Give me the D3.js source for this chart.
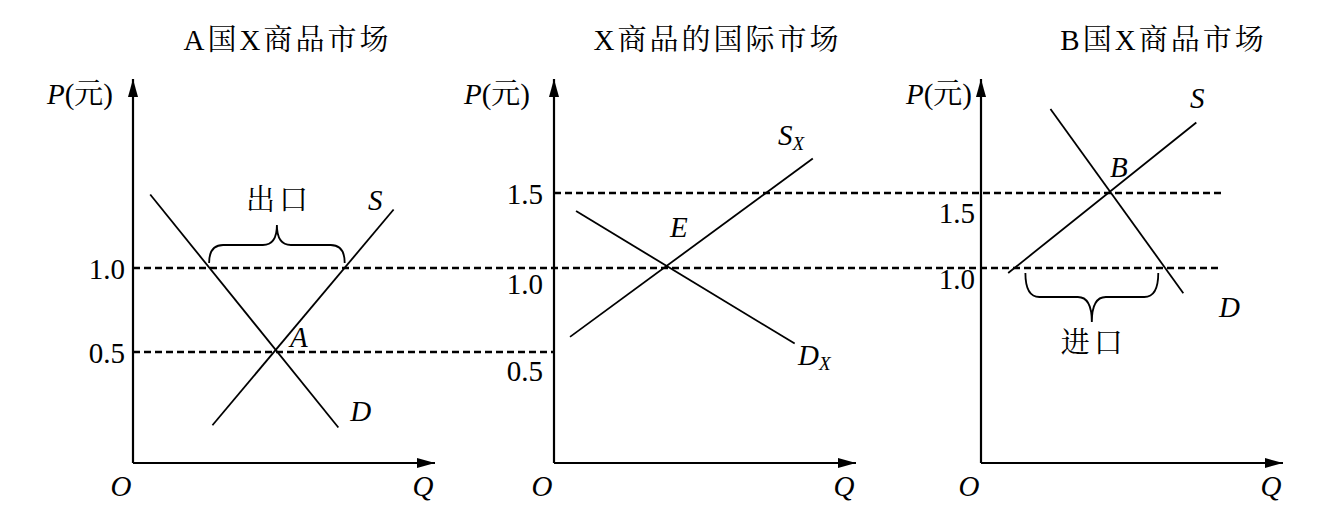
<!DOCTYPE html>
<html><head><meta charset="utf-8">
<script src="https://cdn.jsdelivr.net/npm/d3@7"></script>
<style>
body{margin:0;background:#fff}
svg{display:block}
text{font-family:"Liberation Serif","Times New Roman","Noto Serif CJK SC","Noto Sans CJK SC",serif;fill:#000}
</style>
</head><body>
<svg id="c" width="1333" height="532"></svg>
<script>
// ---------- data ----------
const titles = ["A国X商品市场", "X商品的国际市场", "B国X商品市场"];
const tickValues = [[1.0, 0.5], [1.5, 1.0, 0.5], [1.5, 1.0]];
const tickLabels = [["1.0", "0.5"], ["1.5", "1.0", "0.5"], ["1.5", "1.0"]];
const priceKnots = [0, 0.5, 1.0, 1.5];
const qMax = 10;
const pMax = 2.26;

// curves: [[Q, P], [Q, P]]
const supplyA = [[2.63, 0.17], [8.63, 1.39]];
const demandA = [[0.57, 1.49], [6.80, 0.16]];
const supplyWorld = [[0.53, 0.59], [8.57, 1.73]];
const demandWorld = [[0.73, 1.38], [7.97, 0.55]];
const supplyB = [[0.90, 0.97], [7.13, 1.97]];
const demandB = [[2.30, 2.06], [6.70, 0.85]];

// dashed price lines: price, from [panel, Q], to [panel, Q]
const priceLinePrices = [1.0, 0.5, 1.5];
const priceLineFrom = [[0, 0], [0, 0], [1, 0]];
const priceLineTo = [[2, 7.97], [1, 0], [2, 7.97]];

// trade braces: Q range at price 1.0
const exportRange = [2.52, 7.01];
const importRange = [1.47, 5.87];

// curve labels: panel, text, sub, Q, P
const curveLabels = [
  [0, "S", "", 7.78, 1.39], [0, "D", "", 7.19, 0.19], [0, "A", "", 5.20, 0.53],
  [1, "S", "X", 7.42, 1.82], [1, "D", "X", 8.08, 0.44], [1, "E", "", 3.84, 1.21],
  [2, "S", "", 6.92, 2.07], [2, "D", "", 7.88, 0.71], [2, "B", "", 4.27, 1.61]
];

// ---------- layout ----------
const FS = 29;
const axisX = [133, 554, 981];
const axisLen = 302;
const priceRange = [463, 352, 268, 193];
const titleX = [286, 716, 1162];
const titleSpacing = 3;
const pLabelGap = [20, 24, 9];
const tickDy = [[0, 0], [0, 15, 18], [19, 10]];
const tickGap = [8, 11, 6];

const svg = d3.select("#c");
const yScale = d3.scaleLinear().domain(priceKnots).range(priceRange);
const xScales = axisX.map(x0 => d3.scaleLinear().domain([0, qMax]).range([x0, x0 + axisLen]));

const defs = svg.append("defs");
defs.append("marker").attr("id", "arr").attr("viewBox", "0 0 18 10")
  .attr("refX", 18).attr("refY", 5).attr("markerWidth", 18).attr("markerHeight", 10)
  .attr("markerUnits", "userSpaceOnUse").attr("orient", "auto")
  .append("path").attr("d", "M0,0 L18,5 L0,10 Z").attr("fill", "#000");

// dashed lines
priceLinePrices.forEach((p, i) => {
  const x1 = xScales[priceLineFrom[i][0]](priceLineFrom[i][1]);
  const x2 = xScales[priceLineTo[i][0]](priceLineTo[i][1]);
  svg.append("line").attr("x1", x1).attr("x2", x2)
    .attr("y1", yScale(p)).attr("y2", yScale(p))
    .attr("stroke", "#000").attr("stroke-width", 2.3).attr("stroke-dasharray", "7,4");
});

const line = d3.line();
const curves = [[supplyA, demandA], [supplyWorld, demandWorld], [supplyB, demandB]];

titles.forEach((t, i) => {
  const xs = xScales[i];
  const g = svg.append("g");
  // title
  g.append("text").attr("x", titleX[i] + titleSpacing / 2).attr("y", 50).attr("text-anchor", "middle")
    .attr("font-size", FS).attr("letter-spacing", titleSpacing).text(t);
  // axes
  const x0 = xs(0), y0 = yScale(0);
  g.append("line").attr("x1", x0).attr("y1", y0).attr("x2", x0).attr("y2", yScale(pMax))
    .attr("stroke", "#000").attr("stroke-width", 2.2).attr("marker-end", "url(#arr)");
  g.append("line").attr("x1", x0).attr("y1", y0).attr("x2", xs(qMax)).attr("y2", y0)
    .attr("stroke", "#000").attr("stroke-width", 2.2).attr("marker-end", "url(#arr)");
  // axis ticks via d3 axis
  const ax = d3.axisLeft(yScale).tickValues(tickValues[i])
    .tickFormat((d, k) => tickLabels[i][k]).tickSize(0).tickPadding(tickGap[i]);
  const ag = g.append("g").attr("transform", `translate(${x0},0)`).call(ax);
  ag.select(".domain").remove();
  ag.selectAll("text").attr("font-size", FS)
    .attr("font-family", '"Liberation Serif","Times New Roman",serif')
    .attr("dy", (d, k) => (tickDy[i][k] + 10) + "px");
  // P label
  const pl = g.append("text").attr("x", x0 - pLabelGap[i]).attr("y", 104)
    .attr("text-anchor", "end").attr("font-size", FS);
  pl.append("tspan").attr("font-style", "italic").text("P");
  pl.append("tspan").text("(元)");
  // O and Q
  g.append("text").attr("x", x0 - 12).attr("y", 496).attr("text-anchor", "middle")
    .attr("font-size", FS).attr("font-style", "italic").text("O");
  g.append("text").attr("x", xs(qMax) - 12).attr("y", 496).attr("text-anchor", "middle")
    .attr("font-size", FS).attr("font-style", "italic").text("Q");
  // curves
  curves[i].forEach(c => {
    g.append("path").attr("d", line(c.map(d => [xs(d[0]), yScale(d[1])])))
      .attr("fill", "none").attr("stroke", "#000").attr("stroke-width", 1.8);
  });
});

// curve labels
curveLabels.forEach(([pi, txt, sub, q, p]) => {
  const t = svg.append("text").attr("x", xScales[pi](q)).attr("y", yScale(p))
    .attr("font-size", FS).attr("font-style", "italic");
  t.append("tspan").text(txt);
  if (sub) t.append("tspan").attr("font-size", 19).attr("dy", 5).text(sub);
});

// braces
function brace(x1, x2, yEnd, h1, h2, dir) {
  const yH = yEnd + dir * h1, yT = yH + dir * h2, xm = (x1 + x2) / 2, r = 14;
  const p = d3.path();
  p.moveTo(x1, yEnd);
  p.quadraticCurveTo(x1, yH, x1 + r, yH);
  p.lineTo(xm - r, yH);
  p.quadraticCurveTo(xm, yH, xm, yT);
  p.quadraticCurveTo(xm, yH, xm + r, yH);
  p.lineTo(x2 - r, yH);
  p.quadraticCurveTo(x2, yH, x2, yEnd);
  return { d: p.toString(), xm, yT };
}
const bA = brace(xScales[0](exportRange[0]), xScales[0](exportRange[1]), yScale(1.0) - 5, 18, 20, -1);
svg.append("path").attr("d", bA.d).attr("fill", "none").attr("stroke", "#000").attr("stroke-width", 1.8);
svg.append("text").attr("x", bA.xm + 2).attr("y", bA.yT - 15).attr("text-anchor", "middle")
  .attr("font-size", FS).attr("letter-spacing", 4).text("出口");
const bB = brace(xScales[2](importRange[0]), xScales[2](importRange[1]), yScale(1.0) + 5, 24, 25, 1);
svg.append("path").attr("d", bB.d).attr("fill", "none").attr("stroke", "#000").attr("stroke-width", 1.8);
svg.append("text").attr("x", bB.xm + 2).attr("y", bB.yT + 31).attr("text-anchor", "middle")
  .attr("font-size", FS).attr("letter-spacing", 4).text("进口");
</script>
</body></html>
